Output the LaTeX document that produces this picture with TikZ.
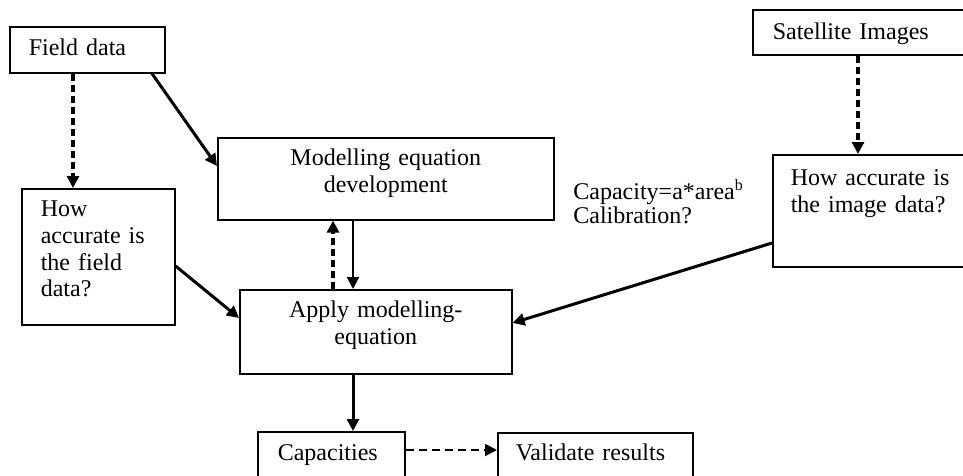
\documentclass[tikz,border=0pt]{standalone}
\usepackage{fontspec}
\setmainfont{Liberation Serif}
\usetikzlibrary{arrows.meta}

\begin{document}
\begin{tikzpicture}[x=0.5pt,y=-0.5pt,>={Triangle[length=6pt,width=6pt]},
  box/.style={draw,line width=0.8pt,anchor=north west,inner ysep=0pt,
    font=\fontsize{12}{13.3}\selectfont},
  link/.style={line width=1.5pt},
  tlink/.style={line width=1pt},
  dlink/.style={line width=1.6pt,dash pattern=on 3.5pt off 2pt},
  tdlink/.style={line width=0.9pt,dash pattern=on 4pt off 2.5pt}]
 \useasboundingbox (0,0) rectangle (963,476);
 \clip (0,0) rectangle (963,476);
 \node[box,align=left,inner xsep=9.5pt,text width=58.5pt,text height=14.5pt,text depth=8.5pt]
   (fdata) at (9,26) {Field data};
 \node[box,align=left,inner xsep=9.5pt,text width=57.5pt,text height=14pt,text depth=54pt]
   (facc) at (21,188) {How\\accurate is\\the field\\data?};
 \node[box,align=center,inner xsep=5pt,text width=158pt,text height=14pt,text depth=27pt]
   (meq) at (217,137) {Modelling equation\\development};
 \node[box,align=center,inner xsep=5pt,text width=126pt,text height=14pt,text depth=28pt]
   (apply) at (239,289) {Apply modelling-\\equation};
 \node[box,align=left,inner xsep=10pt,text width=94pt,text height=15pt,text depth=7.5pt]
   (sat) at (752,9) {Satellite Images};
 \node[box,align=left,inner xsep=9pt,text width=89pt,text height=15.5pt,text depth=40.5pt]
   (iacc) at (772,154) {How accurate is\\the image data?};
 \node[box,align=left,inner xsep=10pt,text width=53.5pt,text height=14.5pt,text depth=20pt]
   (cap) at (257,431) {Capacities};
 \node[box,align=left,inner xsep=9pt,text width=79.5pt,text height=14pt,text depth=20pt]
   (valid) at (497,432) {Validate results};
 \node[anchor=base west,align=left,inner sep=0pt,font=\fontsize{12}{12}\selectfont]
   (note) at (573,223) {Capacity=a*area\textsuperscript{b}\\Calibration?};

 \draw[dlink,->] ([xshift=32pt]fdata.south west) coordinate (p1) -- (p1 |- facc.north);
 \draw[link,->] ([xshift=71.5pt]fdata.south west) -- ([yshift=-14.5pt]meq.north west);
 \draw[link,->] ([yshift=-39pt]facc.north east) -- ([yshift=-14.5pt]apply.north west);
 \draw[dlink,->] ([xshift=47pt]apply.north west) coordinate (p2) -- (p2 |- meq.south);
 \draw[tlink,->] ([xshift=68pt]meq.south west) coordinate (p3) -- (p3 |- apply.north);
 \draw[dlink,->] ([xshift=53pt]sat.south west) coordinate (p4) -- (p4 |- iacc.north);
 \draw[link,->] ([yshift=-44.5pt]iacc.north west) -- ([yshift=-17pt]apply.north east);
 \draw[link,->] ([xshift=57pt]apply.south west) coordinate (p5) -- (p5 |- cap.north);
 \draw[tdlink,->] ([yshift=-9.5pt]cap.north east) coordinate (p6) -- (p6 -| valid.west);
\end{tikzpicture}
\end{document}
